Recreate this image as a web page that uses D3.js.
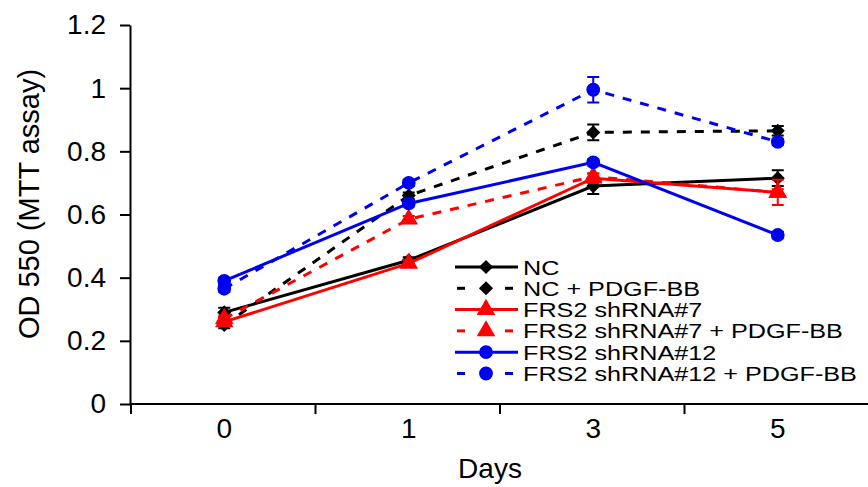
<!DOCTYPE html>
<html>
<head>
<meta charset="utf-8">
<script src="https://cdn.jsdelivr.net/npm/d3@7"></script>
<style>
  html, body { margin: 0; padding: 0; background: #fff; }
  svg { display: block; font-family: "Liberation Sans", Arial, sans-serif; }
</style>
</head>
<body>
<svg id="chart" width="868" height="487"></svg>
<script>
const DAYS = ["0", "1", "3", "5"];
const Y_TICKS = [0, 0.2, 0.4, 0.6, 0.8, 1, 1.2];
const Y_TICK_LABELS = ["0", "0.2", "0.4", "0.6", "0.8", "1", "1.2"];

const SERIES_NAMES = ["NC", "NC + PDGF-BB", "FRS2 shRNA#7", "FRS2 shRNA#7 + PDGF-BB", "FRS2 shRNA#12", "FRS2 shRNA#12 + PDGF-BB"];
const NC = [0.29, 0.455, 0.69, 0.715];
const NC_PDGF = [0.25, 0.66, 0.86, 0.865];
const SH7 = [0.26, 0.445, 0.715, 0.67];
const SH7_PDGF = [0.27, 0.585, 0.72, 0.67];
const SH12 = [0.39, 0.635, 0.765, 0.535];
const SH12_PDGF = [0.365, 0.70, 0.995, 0.83];

const NC_ERR = [0.015, 0.01, 0.025, 0.025];
const NC_PDGF_ERR = [0.01, 0.01, 0.025, 0.015];
const SH7_ERR = [0.01, 0.01, 0.015, 0.04];
const SH7_PDGF_ERR = [0.01, 0.01, 0.01, 0.01];
const SH12_ERR = [0.01, 0.01, 0.01, 0.01];
const SH12_PDGF_ERR = [0.01, 0.01, 0.04, 0.01];

const COLORS = ["#000", "#000", "#f00", "#f00", "#0000f0", "#0000f0"];
const DASHED = [false, true, false, true, false, true];
const SHAPES = ["diamond", "diamond", "triangle", "triangle", "circle", "circle"];

const series = SERIES_NAMES.map((name, i) => ({
  name,
  values: [NC, NC_PDGF, SH7, SH7_PDGF, SH12, SH12_PDGF][i],
  errors: [NC_ERR, NC_PDGF_ERR, SH7_ERR, SH7_PDGF_ERR, SH12_ERR, SH12_PDGF_ERR][i],
  color: COLORS[i],
  dashed: DASHED[i],
  shape: SHAPES[i]
}));

// marker drawing: diamond is a square turned 45 degrees
const marker = (sel, shape, color) => {
  if (shape === "diamond") {
    sel.append("path").attr("transform", "rotate(45)")
      .attr("d", d3.symbol().type(d3.symbolSquare).size(100)).attr("fill", color);
  } else if (shape === "triangle") {
    sel.append("path").attr("d", d3.symbol().type(d3.symbolTriangle).size(150)).attr("fill", color);
  } else {
    sel.append("path").attr("d", d3.symbol().type(d3.symbolCircle).size(150)).attr("fill", color);
  }
};

const svg = d3.select("#chart");
const x = d3.scaleBand().domain(DAYS).range([132, 870]);
const y = d3.scaleLinear().domain([0, 1.2]).range([404, 25]);
const cx = d => x(d) + x.bandwidth() / 2;

// y axis
const yAxis = svg.append("g")
  .attr("transform", `translate(${x.range()[0] - 2},0)`)
  .call(d3.axisLeft(y).tickValues(Y_TICKS).tickSize(10).tickPadding(14)
    .tickFormat((d, i) => Y_TICK_LABELS[i]).tickSizeOuter(0));
yAxis.select(".domain").attr("stroke-width", 2);
yAxis.selectAll(".tick line").attr("stroke-width", 2);
yAxis.selectAll("text").attr("font-size", 28).attr("font-family", "Liberation Sans, Arial");

// x axis
const xAxis = svg.append("g");
xAxis.append("line")
  .attr("x1", x.range()[0] - 2).attr("x2", x.range()[1])
  .attr("y1", y(0)).attr("y2", y(0))
  .attr("stroke", "#000").attr("stroke-width", 2);
xAxis.selectAll(".xtick").data(DAYS).join("line")
  .attr("class", "xtick")
  .attr("x1", d => x(d) - 1).attr("x2", d => x(d) - 1)
  .attr("y1", y(0)).attr("y2", y(0) + 10)
  .attr("stroke", "#000").attr("stroke-width", 2);
xAxis.selectAll(".xlabel").data(DAYS).join("text")
  .attr("class", "xlabel")
  .attr("x", d => cx(d)).attr("y", 438)
  .attr("text-anchor", "middle").attr("font-size", 28)
  .text(d => d);

svg.append("text")
  .attr("x", 490).attr("y", 478)
  .attr("text-anchor", "middle").attr("font-size", 28)
  .text("Days");

svg.append("text")
  .attr("transform", `translate(39,204) rotate(-90)`)
  .attr("text-anchor", "middle").attr("font-size", 29)
  .text("OD 550 (MTT assay)");

// lines
const line = d3.line().x((v, i) => cx(DAYS[i])).y(v => y(v));
const plot = svg.append("g");
series.forEach(s => {
  const g = plot.append("g");
  g.append("path")
    .attr("d", line(s.values))
    .attr("fill", "none")
    .attr("stroke", s.color)
    .attr("stroke-width", 3)
    .attr("stroke-dasharray", s.dashed ? "9,9" : null);
  const pts = s.values.map((v, i) => ({ day: DAYS[i], v, e: s.errors[i] }));
  g.selectAll(".err").data(pts).join("path")
    .attr("class", "err")
    .attr("d", p => `M${cx(p.day)},${y(p.v - p.e)}V${y(p.v + p.e)}M${cx(p.day) - 6},${y(p.v - p.e)}h12M${cx(p.day) - 6},${y(p.v + p.e)}h12`)
    .attr("stroke", s.color).attr("stroke-width", 2).attr("fill", "none");
  g.selectAll(".pt").data(pts).join("g")
    .attr("class", "pt")
    .attr("transform", p => `translate(${cx(p.day)},${y(p.v)})`)
    .each(function () { marker(d3.select(this), s.shape, s.color); });
});

// legend
const legend = svg.append("g").attr("transform", "translate(455,267)");
const rows = legend.selectAll("g").data(series).join("g")
  .attr("transform", (d, i) => `translate(0,${i * 21.3})`);
rows.each(function (s) {
  const r = d3.select(this);
  if (s.dashed) {
    r.append("line").attr("x1", 2).attr("x2", 10).attr("y1", 0).attr("y2", 0)
      .attr("stroke", s.color).attr("stroke-width", 3);
    r.append("line").attr("x1", 50).attr("x2", 58).attr("y1", 0).attr("y2", 0)
      .attr("stroke", s.color).attr("stroke-width", 3);
  } else {
    r.append("line").attr("x1", 0).attr("x2", 63).attr("y1", 0).attr("y2", 0)
      .attr("stroke", s.color).attr("stroke-width", 3);
  }
  marker(r.append("g").attr("transform", "translate(31,0)"), s.shape, s.color);
  r.append("text")
    .attr("transform", "translate(68,7.5) scale(1.2,1)")
    .attr("font-size", 21)
    .text(s.name);
});
</script>
</body>
</html>
